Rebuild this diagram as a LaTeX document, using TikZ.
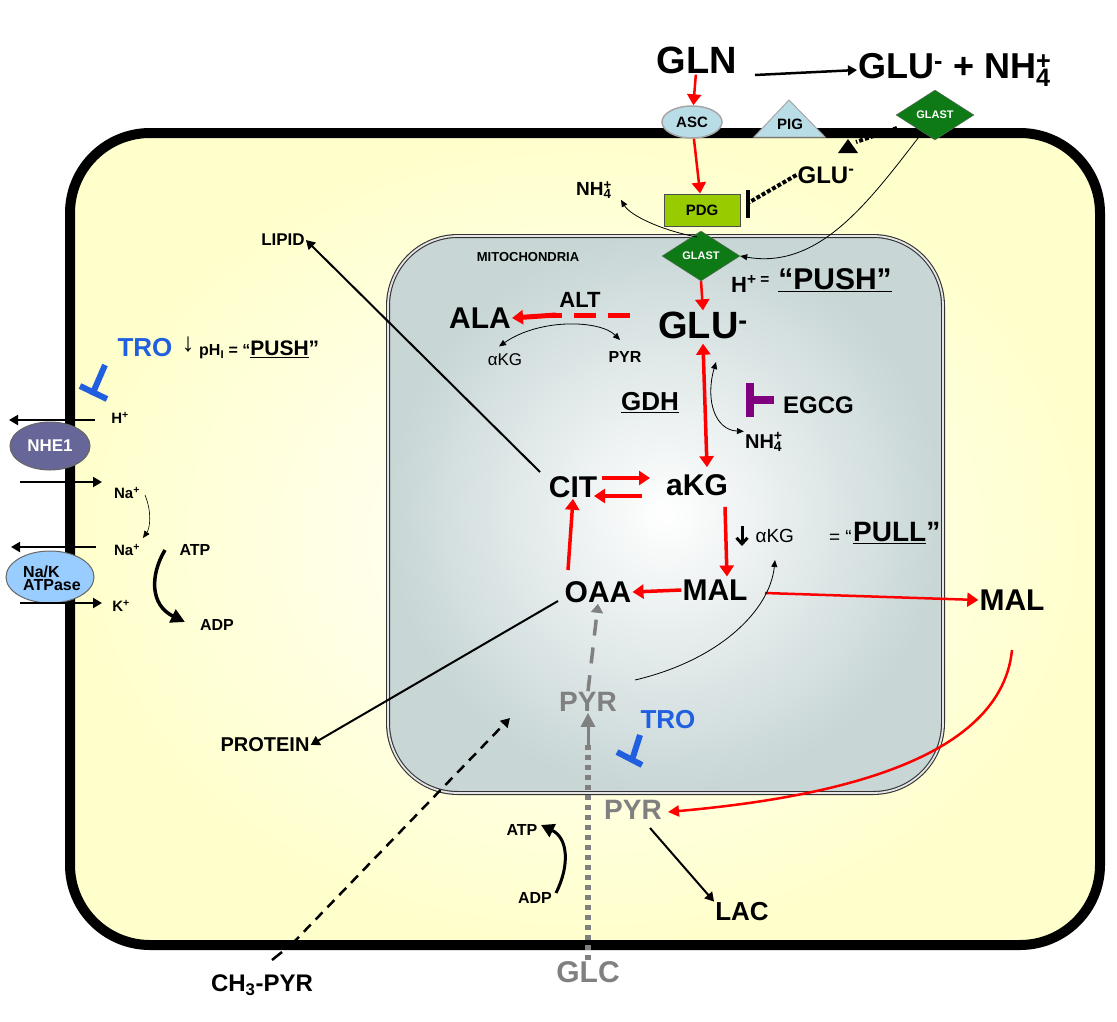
\documentclass[tikz,border=0pt]{standalone}
\usepackage{fontspec}
\setmainfont{Liberation Sans}
\usetikzlibrary{shapes.geometric,arrows.meta,calc}
\definecolor{cellY}{HTML}{FFFFCC}
\definecolor{mitoG}{HTML}{C8D6D6}
\definecolor{glast}{HTML}{0E7A16}
\definecolor{pdg}{HTML}{99CC00}
\definecolor{asc}{HTML}{B9DDE6}
\definecolor{tro}{HTML}{2060E0}
\definecolor{egcg}{HTML}{800080}
\definecolor{nhe}{HTML}{666699}
\definecolor{nak}{HTML}{99CCFF}
\newcommand\myNH{NH\rlap{\textsuperscript{+}}\textsubscript{4}\hphantom{\textsuperscript{+}}}
\tikzset{
 lbl/.style={font=\bfseries\fontsize{#1}{#1}\selectfont, inner sep=1pt},
 red arr/.style={draw=red, line width=3.5pt, -{Triangle[length=11pt,width=14pt]}},
 blk arr/.style={draw=black, line width=2pt, -{Triangle[length=9pt,width=10pt]}},
 thin arr/.style={draw=black, line width=0.8pt, -{Triangle[length=7pt,width=6pt]}},
 glastS/.style={diamond, fill=glast, draw=black!60, text=white, font=\bfseries\fontsize{11}{11}\selectfont, minimum width=78pt, minimum height=50pt, inner sep=0pt, aspect=1.6},
}
\begin{document}
\begin{tikzpicture}[x=1pt,y=-1pt]
\useasboundingbox (0,0) rectangle (1117,1021);
% cell
\shade[inner color=white, outer color=cellY, rounded corners=80pt] (70,133) rectangle (1100,945);
\draw[line width=10pt, rounded corners=80pt] (70,133) rectangle (1100,945);
% mitochondria
\shade[inner color=white, outer color=mitoG, rounded corners=70pt] (388,236) rectangle (943,793);
\draw[line width=4pt, black!80, rounded corners=70pt] (388,236) rectangle (943,793);
\draw[line width=1.8pt, white!90!black, rounded corners=70pt] (388,236) rectangle (943,793);
\node[lbl=13] (mito) at (528,257) {MITOCHONDRIA};

% top
\node[lbl=38] (gln) at (697,60) {GLN};
\node[lbl=36, anchor=west] (gluout) at (857,70) {GLU\textsuperscript{-} + \myNH};
\coordinate (ga) at (755,75);
\draw[blk arr, line width=2.5pt] (ga) -- (gluout.west);
\node[ellipse, fill=asc, draw=black!35, line width=1.5pt, minimum width=60pt, minimum height=32pt, lbl=15, inner sep=0pt] (asc) at (692,122) {ASC};
\fill[asc, draw=black!35, line width=1pt] (754,137) -- (789,100) -- (825,137) -- cycle;
\node[lbl=15] (pig) at (790,124) {PIG};
\node[glastS] (glast1) at (935,115) {GLAST};
\node[rectangle, fill=pdg, draw=black!70, line width=1pt, minimum width=76pt, minimum height=32pt, lbl=15] (pdg) at (702,210) {PDG};
\node[glastS] (glast2) at (701,256) {GLAST};
\node[lbl=24] (glucyt) at (826,175) {GLU\textsuperscript{-}};
\node[lbl=19] (nh4a) at (598,190) {\myNH};
\draw[red arr, line width=2.5pt] (gln) -- (asc);
\draw[red arr, line width=2.5pt] (asc) -- (pdg);
\draw[line width=4pt, dotted] (glucyt.west) -- (748,203);
\draw[line width=4pt] (748,190) -- (748,218);
\coordinate (gd) at (897,128);
\draw[line width=4pt, dotted] (gd) -- (856,142);
\fill (838,153) -- (848,139) -- (858,153) -- cycle;
\draw[thin arr] (697,237) .. controls (660,230) and (630,215) .. (nh4a.south east);
\draw[thin arr] (922,133) .. controls (870,200) and (820,270) .. (glast2.east);

\node[lbl=22, anchor=west] (hplus) at (730,284) {H\textsuperscript{+ =}};
\node[lbl=30] (push) at (835,280) {\underline{“PUSH”}};
\node[lbl=38] (glu) at (703,325) {GLU\textsuperscript{-}};
\draw[red arr, line width=2.5pt] (glast2.south) -- (glu.north);

% ALT
\node[lbl=30] (ala) at (480,318) {ALA};
\node[lbl=22] (alt) at (580,300) {ALT};
\coordinate (altS) at (630,315);
\draw[draw=red, line width=5pt, dash pattern=on 22pt off 12pt] (altS) -- (552,315);
\draw[red arr, line width=5pt] (556,315) -- (ala.east);
\node[font=\fontsize{17}{17}\selectfont] (akg1) at (505,360) {α{}KG};
\node[lbl=16] (pyr1) at (625,357) {PYR};
\draw[thin arr, {Triangle[length=7pt,width=6pt]}-{Triangle[length=7pt,width=6pt]}] (akg1.north) ++(-6,-4) .. controls (540,318) and (600,320) .. (620,340);

% GDH
\node[lbl=26] (gdh) at (650,403) {\underline{GDH}};
\node[lbl=24, anchor=west] (egcg) at (782,405) {EGCG};
\draw[egcg, line width=8pt] (774,400) -- (750,400);
\draw[egcg, line width=8pt] (750,383) -- (750,417);
\node[lbl=20] (nh4b) at (768,442) {\myNH};
\node[lbl=30] (cit) at (573,487) {CIT};
\node[lbl=30] (akg) at (697,485) {aKG};
\draw[red arr, {Triangle[length=11pt,width=14pt]}-{Triangle[length=11pt,width=14pt]}] (glu.south) ++(0,4) -- ($(akg.north)+(10,-6)$);
\draw[thin arr, {Triangle[length=7pt,width=6pt]}-{Triangle[length=7pt,width=6pt]}] (716,362) .. controls (705,400) and (715,430) .. (nh4b.north west);
\draw[red arr, line width=4pt] (602,478) -- (650,478);
\draw[red arr, line width=4pt] (642,496) -- (594,496);

\node[lbl=30] (oaa) at (598,592) {OAA};
\node[lbl=30] (mal) at (715,590) {MAL};
\draw[red arr] ($(akg.south)+(28,10)$) -- ($(mal.north)+(12,-2)$);
\draw[red arr] (mal.west) -- (oaa.east);
\draw[red arr] (568,570) -- (cit.south);
\coordinate (dnA) at (742,526);
\draw[line width=3pt, -{Straight Barb[length=6pt,width=11pt]}] (dnA) -- (742,546);
\node[font=\fontsize{19}{19}\selectfont, anchor=west] (akg2) at (752,536) {α{}KG};
\node[font=\fontsize{19}{19}\selectfont, anchor=east, inner sep=1pt] (eqq) at (853,537) {=~“};
\node[lbl=28, anchor=west, inner sep=0pt] (pull) at (853,533) {\underline{PULL}”};

\node[lbl=30] (malout) at (1012,600) {MAL};
\draw[red arr, line width=2.5pt] (765,593) -- (malout.west);
\draw[draw=red, line width=2.5pt, -{Triangle[length=11pt,width=11pt]}] (1012,650) .. controls (1000,770) and (800,800) .. (668,812);

% PYR & glycolysis
\node[lbl=28, text=black!50] (pyrm) at (588,702) {PYR};
\node[lbl=28, text=black!50] (pyrc) at (633,810) {PYR};
\node[lbl=30, text=black!50] (glc) at (588,972) {GLC};
\node[lbl=26] (lac) at (742,912) {LAC};
\draw[line width=3.5pt, black!50, dash pattern=on 16pt off 12pt, -{Triangle[length=9pt,width=12pt]}] (pyrm.north) -- (oaa.south);
\draw[line width=6pt, black!50, dash pattern=on 5pt off 5pt] (glc.north) -- (588,745);
\draw[line width=3pt, black!50, -{Triangle[length=14pt,width=14pt]}] (588,748) -- (pyrm.south);
\draw[blk arr] (650,828) -- (lac.north west);
\node[lbl=16] (atp1) at (522,830) {ATP};
\node[lbl=16] (adp1) at (535,898) {ADP};
\draw[line width=3pt, -{Triangle[length=13pt,width=14pt]}] (556,893) .. controls (570,865) and (568,838) .. (541,825);
\node[lbl=24] (ch3) at (262,985) {CH\textsubscript{3}-PYR};
\draw[line width=2.5pt] (272,960) -- (282,952);
\draw[line width=2.5pt, dash pattern=on 10pt off 7pt, -{Triangle[length=9pt,width=10pt]}] (292,944) -- (510,718);
\node[lbl=26, text=tro] (tro1) at (668,720) {TRO};
\draw[tro, line width=6pt] (640,735) -- (632,760);
\draw[tro, line width=6pt] (617,752) -- (642,765);

% OAA -> PROTEIN, CIT -> LIPID
\node[lbl=20] (protein) at (265,745) {PROTEIN};
\node[lbl=17] (lipid) at (283,240) {LIPID};
\draw[blk arr] (558,601) -- (protein.east);
\draw[blk arr] (540,472) -- (lipid.east);
\draw[thin arr] (635,680) .. controls (720,660) and (770,610) .. (775,560);

% left side
\node[lbl=26, text=tro] (tro2) at (145,348) {TRO};
\draw[tro, line width=6pt] (105,365) -- (92,395);
\draw[tro, line width=6pt] (80,386) -- (107,399);
\node[font=\fontsize{26}{26}\selectfont, anchor=west] (dpH) at (178,345) {↓};
\node[lbl=16, anchor=west] (ph) at (198,350) {pH\textsubscript{I} = “\fontsize{21}{21}\selectfont\underline{PUSH}”};
\node[ellipse, fill=nhe, draw=black!60, line width=1pt, minimum width=80pt, minimum height=48pt, lbl=17, text=white, inner sep=0pt] (nhe) at (50,446) {NHE1};
\node[ellipse, fill=nak, draw=black!60, line width=1pt, minimum width=88pt, minimum height=52pt, inner sep=0pt] (nak) at (50,577) {};
\node[lbl=16, align=left] (naktxt) at (52,578) {Na/K\\[-3pt]ATPase};
\node[lbl=15] (hp) at (120,418) {H\textsuperscript{+}};
\node[lbl=15] (na1) at (127,493) {Na\textsuperscript{+}};
\node[lbl=15] (na2) at (127,550) {Na\textsuperscript{+}};
\node[lbl=15] (kp) at (121,606) {K\textsuperscript{+}};
\node[lbl=16] (atp2) at (195,550) {ATP};
\node[lbl=16] (adp2) at (217,625) {ADP};
\draw[blk arr] (95,420) -- (9,420);
\draw[blk arr] (20,482) -- (102,482);
\draw[blk arr] (96,547) -- (11,547);
\draw[blk arr] (20,603) -- (102,603);
\draw[thin arr, line width=0.6pt] (145,495) .. controls (152,512) and (150,528) .. (143,538);
\draw[line width=3.5pt, -{Triangle[length=14pt,width=14pt]}] (165,550) .. controls (150,575) and (150,605) .. (185,622);
\end{tikzpicture}
\end{document}
